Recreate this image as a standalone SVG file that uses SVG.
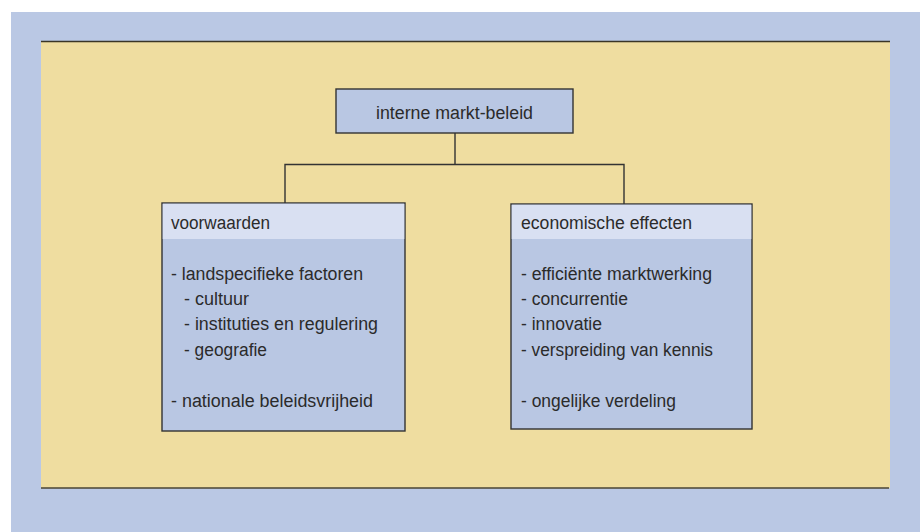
<svg xmlns="http://www.w3.org/2000/svg" width="920" height="532" viewBox="0 0 920 532">
<style>
.box{fill:#b9c7e3;stroke:#333;stroke-width:1.4}
.hdr{fill:#d9e0f2}
.t{font-family:"Liberation Sans",Arial,sans-serif;font-size:18px;fill:#2b2b2b}
.conn{fill:none;stroke:#333;stroke-width:1.4}
</style>
<rect x="0" y="0" width="920" height="532" fill="#ffffff"/>
<rect x="11" y="12" width="909" height="520" fill="#bac8e4"/>
<rect x="41" y="41" width="849" height="447" fill="#efdda0"/>
<line x1="41" y1="41.5" x2="890" y2="41.5" stroke="#3a3526" stroke-width="1.6"/>
<line x1="41" y1="488" x2="889" y2="488" stroke="#4a4434" stroke-width="1.6"/>
<g id="connectors">
<path class="conn" d="M455 133 V164.5 M285 203 V164.5 H624 V204"/>
</g>
<g id="top">
<rect class="box" x="336" y="89" width="237" height="44"/>
<text class="t" x="376" y="119" textLength="157" lengthAdjust="spacingAndGlyphs">interne markt-beleid</text>
</g>
<g id="voorwaarden">
<rect class="box" x="162" y="203" width="243" height="228"/>
<rect class="hdr" x="162.7" y="203.7" width="241.6" height="35.3"/>
<text class="t" x="171" y="229" textLength="99" lengthAdjust="spacingAndGlyphs">voorwaarden</text>
<text class="t" x="171" y="280" textLength="192" lengthAdjust="spacingAndGlyphs">- landspecifieke factoren</text>
<text class="t" x="184" y="305" textLength="65" lengthAdjust="spacingAndGlyphs">- cultuur</text>
<text class="t" x="184" y="330" textLength="194" lengthAdjust="spacingAndGlyphs">- instituties en regulering</text>
<text class="t" x="184" y="356" textLength="83" lengthAdjust="spacingAndGlyphs">- geografie</text>
<text class="t" x="171" y="407" textLength="202" lengthAdjust="spacingAndGlyphs">- nationale beleidsvrijheid</text>
</g>
<g id="effecten">
<rect class="box" x="511" y="204" width="241" height="225"/>
<rect class="hdr" x="511.7" y="204.7" width="239.6" height="34.3"/>
<text class="t" x="521" y="229" textLength="171" lengthAdjust="spacingAndGlyphs">economische effecten</text>
<text class="t" x="521" y="280" textLength="191" lengthAdjust="spacingAndGlyphs">- efficiënte marktwerking</text>
<text class="t" x="521" y="305" textLength="107" lengthAdjust="spacingAndGlyphs">- concurrentie</text>
<text class="t" x="521" y="330" textLength="81" lengthAdjust="spacingAndGlyphs">- innovatie</text>
<text class="t" x="521" y="356" textLength="192" lengthAdjust="spacingAndGlyphs">- verspreiding van kennis</text>
<text class="t" x="521" y="407" textLength="155" lengthAdjust="spacingAndGlyphs">- ongelijke verdeling</text>
</g>
</svg>
